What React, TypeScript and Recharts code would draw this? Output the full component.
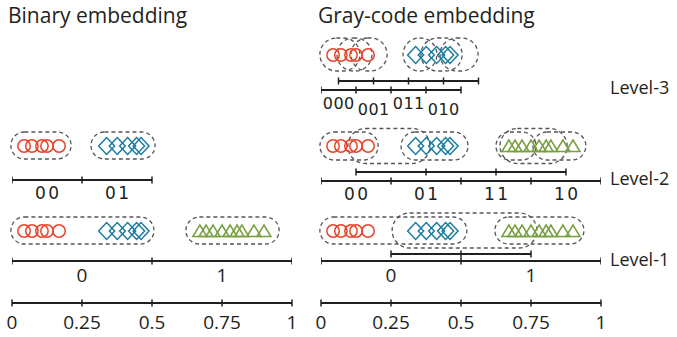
import React from 'react';
import { ScatterChart, Scatter, XAxis, YAxis, ReferenceArea, ReferenceDot } from 'recharts';

// sample positions on [0, 1]
const circles = [0.043, 0.071, 0.107, 0.125, 0.168];
const diamonds = [0.338, 0.376, 0.413, 0.445, 0.461];
const triangles = [0.671, 0.693, 0.718, 0.75, 0.779, 0.804, 0.821, 0.864, 0.9];

const axisTicks = [0, 0.25, 0.5, 0.75, 1];
const axisTickLabels = ['0', '0.25', '0.5', '0.75', '1'];

// binary embedding
const binL2Ticks = [0, 0.25, 0.5];
const binL2Codes = ['00', '01'];
const binL2CodeAt = [0.125, 0.375];
const binL2Boxes = [
  { x1: -0.004, x2: 0.211, shift: false },
  { x1: 0.282, x2: 0.511, shift: false },
];
const binL1Ticks = [0, 0.5, 1];
const binL1Codes = ['0', '1'];
const binL1CodeAt = [0.25, 0.75];
const binL1Boxes = [
  { x1: -0.004, x2: 0.507, shift: false },
  { x1: 0.621, x2: 0.954, shift: false },
];

// gray-code embedding
const grayL3Lower = [0, 0.125, 0.25, 0.375, 0.5];
const grayL3Upper = [0.0625, 0.1875, 0.3125, 0.4375, 0.5625];
const grayL3Codes = ['000', '001', '011', '010'];
const grayL3CodeAt = [0.0625, 0.1875, 0.3125, 0.4375];
const grayL3Boxes = [
  { x1: -0.004, x2: 0.139, shift: false },
  { x1: 0.057, x2: 0.182, shift: true },
  { x1: 0.107, x2: 0.236, shift: false },
  { x1: 0.293, x2: 0.414, shift: false },
  { x1: 0.357, x2: 0.504, shift: true },
  { x1: 0.425, x2: 0.561, shift: false },
];
const grayL2Lower = [0, 0.25, 0.5, 0.75, 1];
const grayL2Upper = [0.125, 0.375, 0.625, 0.875];
const grayL2Codes = ['00', '01', '11', '10'];
const grayL2CodeAt = [0.125, 0.375, 0.625, 0.875];
const grayL2Boxes = [
  { x1: -0.004, x2: 0.204, shift: false },
  { x1: 0.096, x2: 0.389, shift: true },
  { x1: 0.286, x2: 0.525, shift: false },
  { x1: 0.625, x2: 0.768, shift: false },
  { x1: 0.639, x2: 0.879, shift: true },
  { x1: 0.757, x2: 0.946, shift: false },
];
const grayL1Lower = [0, 0.5, 1];
const grayL1Upper = [0.25, 0.5, 0.75];
const grayL1Codes = ['0', '1'];
const grayL1CodeAt = [0.25, 0.75];
const grayL1Boxes = [
  { x1: -0.004, x2: 0.521, shift: false },
  { x1: 0.254, x2: 0.771, shift: true },
  { x1: 0.621, x2: 0.939, shift: false },
];

const RED = '#e8442b';
const BLUE = '#1b7ca0';
const GREEN = '#77a040';
const INK = '#231f20';
const DASH = '#555';
const SANS = '"Open Sans", sans-serif';
const CODEFONT = '"DejaVu Sans", sans-serif';

const TickMark = (p: any) => (
  <line x1={p.cx} x2={p.cx} y1={p.cy - 3.5} y2={p.cy + 3.5} stroke={INK} strokeWidth={1.5} />
);
const CircleMark = (p: any) => (
  <circle cx={p.cx} cy={p.cy} r={6.2} fill="none" stroke={RED} strokeWidth={1.5} />
);
const DiamondMark = (p: any) => (
  <path
    d={`M${p.cx - 8},${p.cy}L${p.cx},${p.cy - 8.5}L${p.cx + 8},${p.cy}L${p.cx},${p.cy + 8.5}Z`}
    fill="none"
    stroke={BLUE}
    strokeWidth={1.5}
  />
);
const TriangleMark = (p: any) => (
  <path
    d={`M${p.cx - 7},${p.cy + 5.5}L${p.cx},${p.cy - 6}L${p.cx + 7},${p.cy + 5.5}Z`}
    fill="none"
    stroke={GREEN}
    strokeWidth={1.5}
  />
);

const codeShape = (size: number, font: string, spacing: number) => (p: any) => (
  <text
    x={p.cx}
    y={p.cy}
    dx={spacing / 2}
    textAnchor="middle"
    dominantBaseline="central"
    fontFamily={font}
    fontSize={size}
    letterSpacing={spacing}
    fill={INK}
  >
    {p.payload.label}
  </text>
);

const AxisTick = (p: any) => (
  <g>
    <line x1={p.x} x2={p.x} y1={303 - 3.5} y2={303 + 3.5} stroke={INK} strokeWidth={1.5} />
    <text
      x={p.x}
      y={322}
      textAnchor="middle"
      dominantBaseline="central"
      fontFamily={SANS}
      fontSize={19}
      fill={INK}
    >
      {axisTickLabels[axisTicks.indexOf(p.payload.value)]}
    </text>
  </g>
);

function numberLine(key: string, ticks: number[], y: number) {
  return (
    <Scatter
      key={key}
      data={ticks.map((x) => ({ x, y }))}
      line={{ stroke: INK, strokeWidth: 1.8 }}
      shape={TickMark}
      isAnimationActive={false}
    />
  );
}

function marks(y: number, withTriangles: boolean) {
  const out = [
    <Scatter key={`c${y}`} data={circles.map((x) => ({ x, y }))} shape={CircleMark} isAnimationActive={false} />,
    <Scatter key={`d${y}`} data={diamonds.map((x) => ({ x, y }))} shape={DiamondMark} isAnimationActive={false} />,
  ];
  if (withTriangles) {
    out.push(
      <Scatter key={`t${y}`} data={triangles.map((x) => ({ x, y }))} shape={TriangleMark} isAnimationActive={false} />
    );
  }
  return out;
}

function codes(key: string, labels: string[], at: number[], ys: number[], shape: any) {
  return (
    <Scatter
      key={key}
      data={labels.map((label, i) => ({ x: at[i], y: ys[i % ys.length], label }))}
      shape={shape}
      isAnimationActive={false}
    />
  );
}

function boxes(key: string, list: any[], yc: number, h: number, hShift: number) {
  return list.map((b, i) => {
    const hh = (b.shift ? hShift : h) / 2;
    return (
      <ReferenceArea
        key={`${key}${i}`}
        x1={b.x1}
        x2={b.x2}
        y1={yc - hh}
        y2={yc + hh}
        ifOverflow="visible"
        shape={(p: any) => (
          <rect
            x={p.x}
            y={p.y}
            width={p.width}
            height={p.height}
            rx={Math.min(p.height / 2, p.width / 2)}
            fill="none"
            stroke={DASH}
            strokeWidth={1.3}
            strokeDasharray="4 3"
          />
        )}
      />
    );
  });
}

function levelLabel(text: string, y: number) {
  return (
    <ReferenceDot
      key={text}
      x={1}
      y={y}
      r={0}
      shape={(p: any) => (
        <text x={p.cx + 9} y={p.cy - 1} dominantBaseline="central" fontFamily={SANS} fontSize={18} fill={INK}>
          {text}
        </text>
      )}
    />
  );
}

function Panel({ left, width, right, children }: any) {
  return (
    <div style={{ position: 'absolute', left, top: 0 }}>
      <ScatterChart width={width} height={337} margin={{ top: 0, right, bottom: 0, left: 12 }}>
        <XAxis
          dataKey="x"
          type="number"
          domain={[0, 1]}
          allowDataOverflow
          ticks={axisTicks}
          interval={0}
          height={34}
          tickLine={false}
          tickSize={0}
          tickMargin={0}
          axisLine={{ stroke: INK, strokeWidth: 1.8 }}
          tick={<AxisTick />}
        />
        <YAxis dataKey="y" type="number" domain={[0, 303]} reversed allowDataOverflow hide />
        {children}
      </ScatterChart>
    </div>
  );
}

const small = codeShape(16, CODEFONT, 0.5);
const mid = codeShape(17, CODEFONT, 2.5);
const big = codeShape(19, SANS, 0);

export default function App() {
  return (
    <div style={{ position: 'absolute', left: 0, top: 0, width: 677, height: 337, background: '#fff' }}>
      <Panel left={0} width={309} right={17}>
        {boxes('bl2', binL2Boxes, 145.5, 27, 27)}
        {boxes('bl1', binL1Boxes, 230.5, 27, 27)}
        {marks(146, false)}
        {marks(231, true)}
        {numberLine('bl2line', binL2Ticks, 180)}
        {numberLine('bl1line', binL1Ticks, 261)}
        {codes('bl2c', binL2Codes, binL2CodeAt, [193], mid)}
        {codes('bl1c', binL1Codes, binL1CodeAt, [275], big)}
      </Panel>
      <Panel left={309} width={368} right={76}>
        {boxes('gl3', grayL3Boxes, 54.5, 33, 33)}
        {boxes('gl2', grayL2Boxes, 146, 28, 35)}
        {boxes('gl1', grayL1Boxes, 230.5, 27, 35)}
        {marks(55, false)}
        {marks(146, true)}
        {marks(231, true)}
        {numberLine('gl3u', grayL3Upper, 81)}
        {numberLine('gl3l', grayL3Lower, 90)}
        {numberLine('gl2u', grayL2Upper, 172)}
        {numberLine('gl2l', grayL2Lower, 181)}
        {numberLine('gl1u', grayL1Upper, 254)}
        {numberLine('gl1l', grayL1Lower, 261)}
        {codes('gl3c', grayL3Codes, grayL3CodeAt, [103, 109], small)}
        {codes('gl2c', grayL2Codes, grayL2CodeAt, [194], mid)}
        {codes('gl1c', grayL1Codes, grayL1CodeAt, [275], big)}
        {levelLabel('Level-3', 88)}
        {levelLabel('Level-2', 179)}
        {levelLabel('Level-1', 260)}
      </Panel>
      <svg width={677} height={40} style={{ position: 'absolute', left: 0, top: 0 }}>
        <text x={8} y={23} fontFamily={SANS} fontSize={21} fill={INK}>
          Binary embedding
        </text>
        <text x={318} y={23} fontFamily={SANS} fontSize={21} fill={INK}>
          Gray-code embedding
        </text>
      </svg>
    </div>
  );
}
